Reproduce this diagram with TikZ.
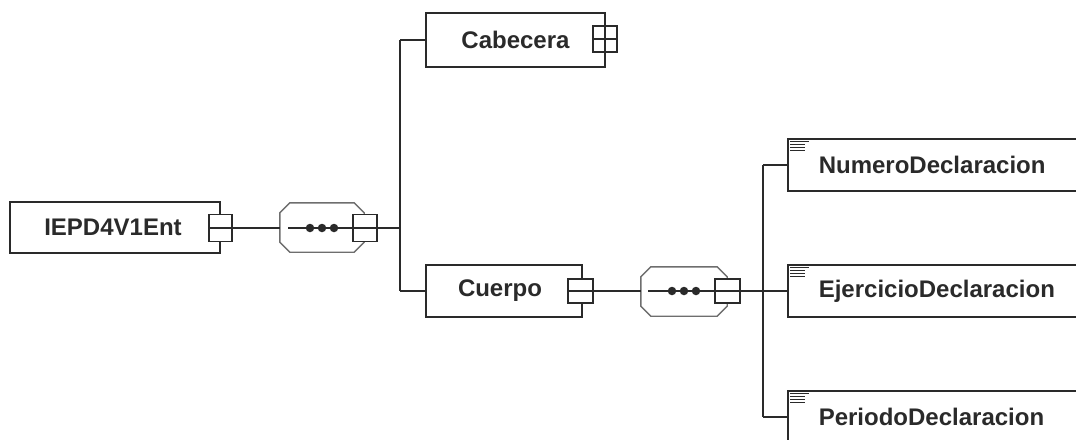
\documentclass[tikz,border=0pt]{standalone}
\usepackage{fontspec}
\setmainfont{Liberation Sans}
\definecolor{ink}{HTML}{2A2A2A}
\definecolor{seqgray}{HTML}{6E6E6E}
\tikzset{
  elem/.style={draw=ink, line width=1.6pt, fill=white, rectangle, inner sep=0pt,
    font=\fontsize{24}{28}\selectfont\bfseries, text=ink},
  child/.style={elem, minimum width=290pt, minimum height=52pt, anchor=west,
    inner xsep=31pt, text width=228pt, align=left},
  btn/.style={draw=ink, line width=1.4pt, fill=white, rectangle, inner sep=0pt,
    minimum width=24pt, minimum height=26pt},
  seq/.style={rectangle, inner sep=0pt},
  seqline/.style={draw=seqgray, line width=1.4pt, fill=white},
  conn/.style={draw=ink, line width=1.6pt},
  dot/.style={circle, fill=ink, inner sep=0pt, minimum size=8.5pt},
}
\newcommand{\minusbtn}[1]{\draw[ink, line width=1.2pt] ([xshift=2pt]#1.west) -- ([xshift=-2pt]#1.east);}
\newcommand{\plusbtn}[1]{\draw[ink, line width=1.2pt] ([xshift=2pt]#1.west) -- ([xshift=-2pt]#1.east) ([yshift=-2pt]#1.north) -- ([yshift=2pt]#1.south);}
\newcommand{\texticon}[1]{\foreach \k/\l in {0/19,3/15,6/15,9/15} \draw[ink, line width=1.3pt] ([xshift=3pt,yshift=-3pt-\k pt]#1.north west) -- ++(\l pt,0);}
\newcommand{\octagon}[1]{\draw[seqline] ([xshift=10pt]#1.north west) -- ([xshift=-10pt]#1.north east) -- ([yshift=-10pt]#1.north east) -- ([yshift=10pt]#1.south east) -- ([xshift=-10pt]#1.south east) -- ([xshift=10pt]#1.south west) -- ([yshift=10pt]#1.south west) -- ([yshift=-10pt]#1.north west) -- cycle;}
\begin{document}
\begin{tikzpicture}[x=1pt,y=-1pt]
\useasboundingbox (0,0) rectangle (1076,439);
\clip (0,0) rectangle (1076,439);

% root
\node[elem, minimum width=210pt, minimum height=51pt] (root) at (115,227.5) {IEPD4V1Ent\hspace*{4pt}};
\node[btn, minimum width=23pt, minimum height=27pt] (rootbtn) at (220.5,228) {};
\minusbtn{rootbtn}

% sequence 1
\node[seq, minimum width=84pt, minimum height=49pt] (seq1) at (322,227.5) {};
\octagon{seq1}
\node[btn, minimum width=24pt, minimum height=27pt] (seq1btn) at (365,228) {};
\minusbtn{seq1btn}
\coordinate (seq1in) at (288,228);
\draw[conn] (seq1in) -- (seq1btn.west);
\node[dot] (d11) at (310,228) {};
\node[dot] (d12) at (322,228) {};
\node[dot] (d13) at (334,228) {};
\draw[conn] (rootbtn.east) -- (seq1.west |- rootbtn.east);

\coordinate (j1) at (400,228);
\draw[conn] (seq1btn.east) -- (j1);

% Cabecera
\node[elem, minimum width=179pt, minimum height=54pt] (cab) at (515.5,40) {Cabecera};
\node[btn] (cabbtn) at (605,39) {};
\plusbtn{cabbtn}

% Cuerpo
\node[elem, minimum width=156pt, minimum height=52pt] (cue) at (504,291) {Cuerpo\hspace*{8pt}};
\node[btn, minimum width=25pt, minimum height=24pt] (cuebtn) at (580.5,291) {};
\minusbtn{cuebtn}

\draw[conn] (j1 |- cab.west) -- (j1 |- cue.west);
\draw[conn] (j1 |- cab.west) -- (cab.west);
\draw[conn] (j1 |- cue.west) -- (cue.west);

% sequence 2
\node[seq, minimum width=86pt, minimum height=49pt] (seq2) at (684,291.5) {};
\octagon{seq2}
\node[btn, minimum width=25pt, minimum height=24pt] (seq2btn) at (727.5,291) {};
\minusbtn{seq2btn}
\coordinate (seq2in) at (648,291);
\draw[conn] (seq2in) -- (seq2btn.west);
\node[dot] (d21) at (672,291) {};
\node[dot] (d22) at (684,291) {};
\node[dot] (d23) at (696,291) {};
\draw[conn] (cuebtn.east) -- (seq2.west |- cuebtn.east);

\coordinate (j2) at (763,291);
\draw[conn] (seq2btn.east) -- (j2);

% children
\node[child] (num) at (787,165) {NumeroDeclaracion};
\node[child] (eje) at (787,291) {EjercicioDeclaracion};
\node[child] (per) at (787,417) {PeriodoDeclaracion};
\texticon{num}
\texticon{eje}
\texticon{per}

\draw[conn] (j2 |- num.west) -- (j2 |- per.west);
\draw[conn] (j2 |- num.west) -- (num.west);
\draw[conn] (j2 |- eje.west) -- (eje.west);
\draw[conn] (j2 |- per.west) -- (per.west);
\end{tikzpicture}
\end{document}
